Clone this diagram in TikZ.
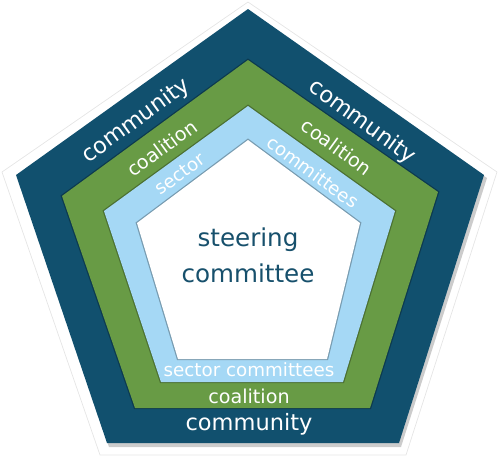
\documentclass[tikz,border=0pt]{standalone}
\usepackage{fontspec}
\setmainfont{DejaVu Sans}
\usepackage{tikz}
\definecolor{commblue}{HTML}{11506E}
\definecolor{coalgreen}{HTML}{689B45}
\definecolor{sectblue}{HTML}{A5D8F5}
\definecolor{steerink}{HTML}{17506C}
\tikzset{
  rimshade/.style={draw=black,draw opacity=0.28,line width=1.4pt,line join=miter},
  lbl/.style={text=white,inner sep=0pt},
  lblc/.style={lbl,font=\fontsize{12.8}{14}\selectfont},
  lblg/.style={lbl,font=\fontsize{10.9}{12}\selectfont},
  lbls/.style={lbl,font=\fontsize{10.4}{12}\selectfont},
}

\begin{document}
\begin{tikzpicture}[x=0.02cm,y=-0.02cm]
  \useasboundingbox (0,0) rectangle (500,458);
  % faint halo and shadow of the outer pentagon
  \draw[black!10,line width=0.4pt] (248,2) -- (497,172) -- (406,455) -- (100,455) -- (2,172) -- cycle;
  \fill[black!40,opacity=0.5] (250,12) -- (487,178) -- (401,447) -- (109,447) -- (18,178) -- cycle;
  % community
  \fill[commblue] (248,9) -- (484,175) -- (399,443) -- (107,443) -- (16,175) -- cycle;
  % coalition
  \draw[rimshade] (248,60) -- (438,192) -- (370,408) -- (135,408) -- (62,196) -- cycle;
  \fill[coalgreen] (248,60) -- (438,192) -- (370,408) -- (135,408) -- (62,196) -- cycle;
  % sector committees
  \draw[rimshade] (248,106) -- (395,211) -- (343,382) -- (161,382) -- (104,211) -- cycle;
  \fill[sectblue] (248,106) -- (395,211) -- (343,382) -- (161,382) -- (104,211) -- cycle;
  % steering committee
  \draw[rimshade] (248,140) -- (360,223) -- (327,359) -- (178,359) -- (137,223) -- cycle;
  \fill[white] (248,140) -- (360,223) -- (327,359) -- (178,359) -- (137,223) -- cycle;
  % ring labels
  \node[lblc,rotate=36] (commL) at (136,121) {community};
  \node[lblc,rotate=-36] (commR) at (362,122) {community};
  \node[lblc] (commB) at (249,424) {community};
  \node[lblg,rotate=36] (coalL) at (162,148) {coalition};
  \node[lblg,rotate=-36] (coalR) at (337,147) {coalition};
  \node[lblg] (coalB) at (249,396) {coalition};
  \node[lbls,rotate=36] (sectL) at (180,174) {sector};
  \node[lbls,rotate=-36] (sectR) at (313,172) {committees};
  \node[lbls] (sectB) at (249,370) {sector committees};
  % centre
  \node[text=steerink,font=\fontsize{14}{20.4}\selectfont,align=center] (steer) at (248,255) {steering\\committee};
\end{tikzpicture}
\end{document}
